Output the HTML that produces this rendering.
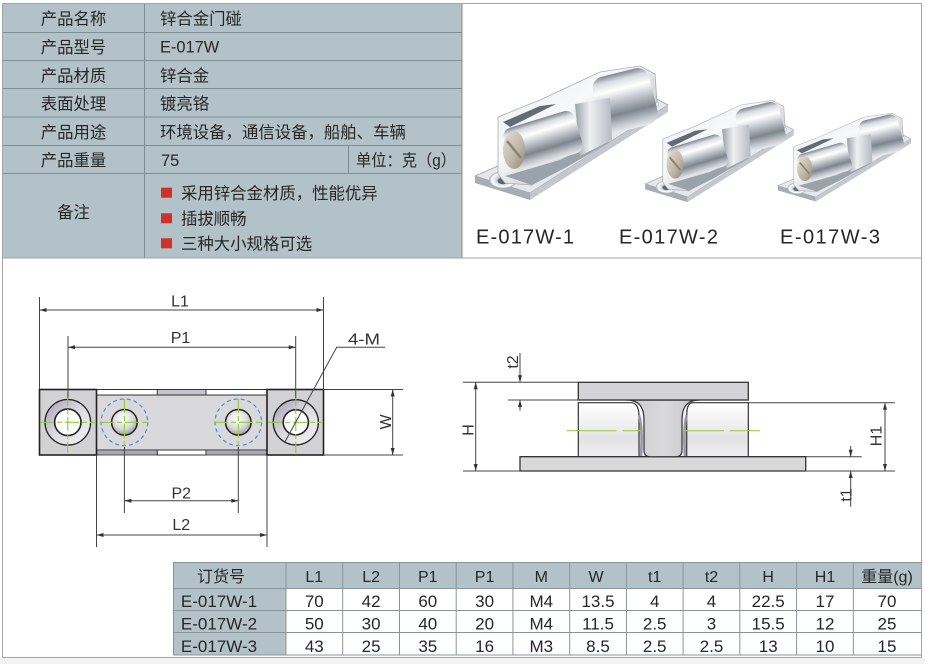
<!DOCTYPE html>
<html><head><meta charset="utf-8">
<style>
html,body{margin:0;padding:0;background:#fff;}
svg{display:block;}
text{font-family:"Liberation Sans","Noto Sans CJK SC",sans-serif;fill:#262626;}
.d{fill:#333;}
</style></head><body>
<svg width="925" height="664" viewBox="0 0 925 664" xmlns="http://www.w3.org/2000/svg">
<defs>
<linearGradient id="cyl" x1="0" y1="0" x2="0" y2="1">
<stop offset="0" stop-color="#7e858f"/><stop offset="0.12" stop-color="#d9dde2"/><stop offset="0.28" stop-color="#ffffff"/><stop offset="0.45" stop-color="#c9cdd3"/><stop offset="0.7" stop-color="#7f858e"/><stop offset="0.88" stop-color="#c2c7cd"/><stop offset="1" stop-color="#e9ebee"/>
</linearGradient>
<linearGradient id="body" x1="0" y1="0" x2="1" y2="1">
<stop offset="0" stop-color="#e9ecef"/><stop offset="0.4" stop-color="#f7f8f9"/><stop offset="0.7" stop-color="#c3c8ce"/><stop offset="1" stop-color="#dde0e4"/>
</linearGradient>
<linearGradient id="mid" x1="0" y1="0" x2="1" y2="0">
<stop offset="0" stop-color="#9aa0a8"/><stop offset="0.4" stop-color="#eef0f2"/><stop offset="1" stop-color="#b6bbc2"/>
</linearGradient>
<linearGradient id="screw" x1="0" y1="0" x2="1" y2="1">
<stop offset="0" stop-color="#e6e0d4"/><stop offset="0.6" stop-color="#bdb5a5"/><stop offset="1" stop-color="#8d8676"/>
</linearGradient>
<radialGradient id="hole" cx="0.5" cy="0.5" r="0.5">
<stop offset="0" stop-color="#6c727a"/><stop offset="0.5" stop-color="#d5d9de"/><stop offset="0.8" stop-color="#ffffff"/><stop offset="1" stop-color="#a3a9b1"/>
</radialGradient>
<linearGradient id="csk" x1="0" y1="0" x2="1" y2="1">
<stop offset="0" stop-color="#a79eb6"/><stop offset="0.5" stop-color="#dcdbe0"/><stop offset="1" stop-color="#f4f4f4"/>
</linearGradient>
<radialGradient id="ball" cx="0.45" cy="0.35" r="0.7">
<stop offset="0" stop-color="#ffffff"/><stop offset="0.6" stop-color="#d8d8da"/><stop offset="1" stop-color="#8e8e94"/>
</radialGradient>
<linearGradient id="lb" x1="0" y1="0" x2="0" y2="1">
<stop offset="0" stop-color="#ffffff"/><stop offset="0.45" stop-color="#eeeeee"/><stop offset="0.65" stop-color="#e2e2e4"/><stop offset="1" stop-color="#efeff0"/>
</linearGradient>
<linearGradient id="stem" x1="0" y1="0" x2="1" y2="0">
<stop offset="0" stop-color="#c8c8cc"/><stop offset="0.5" stop-color="#dadadc"/><stop offset="1" stop-color="#c4c4c8"/>
</linearGradient>
<g id="prod">
 <polygon points="475,176 500,165 655,98 668,105 530,193" fill="#e4e7eb" stroke="#9aa0a8" stroke-width="0.8"/>
 <polygon points="475,176 530,193 530,200 475,183" fill="#a7adb5"/>
 <polygon points="530,193 668,105 668,112 530,200" fill="#c3c8ce"/>
 <ellipse cx="503" cy="180" rx="14" ry="8.5" fill="url(#hole)"/>
 <ellipse cx="503" cy="181" rx="5.5" ry="3.2" fill="#5f656d"/>
 <ellipse cx="652" cy="104" rx="7" ry="4" fill="url(#hole)"/>
 <polygon points="498,117 540,100 600,72 640,66 655,74 657,102 640,114 600,140 560,165 532,185 505,183 498,174" fill="url(#body)" stroke="#a9aeb5" stroke-width="0.8"/>
 <polygon points="503,122 540,106 556,104 520,122 510,127" fill="#656b74"/>
 <polygon points="505,176 560,160 600,140 610,142 565,168 532,185" fill="#9ca2aa"/>
 <g transform="rotate(-14 624 100)"><rect x="596" y="72" width="58" height="58" rx="12" fill="url(#cyl)"/></g>
 <polygon points="575,104 610,98 612,140 580,156" fill="url(#mid)"/>
 <g transform="rotate(-17 545 140)"><rect x="506" y="118" width="74" height="44" rx="9" fill="url(#cyl)"/></g>
 <ellipse cx="514" cy="150" rx="11" ry="19" fill="url(#screw)"/>
 <line x1="507" y1="141" x2="521" y2="158" stroke="#8b8272" stroke-width="2.5"/>
</g>
</defs>

<rect width="925" height="664" fill="#fff"/>
<rect x="0" y="658" width="925" height="6" fill="#f3f3f3"/>

<!-- ===== top table ===== -->
<rect x="2.5" y="3.5" width="459.5" height="254.5" fill="#b3c2c9"/>
<g stroke="#7f8d94" stroke-width="1" fill="none">
<line x1="2.5" y1="32.5" x2="462" y2="32.5"/>
<line x1="2.5" y1="60.5" x2="462" y2="60.5"/>
<line x1="2.5" y1="88.5" x2="462" y2="88.5"/>
<line x1="2.5" y1="117" x2="462" y2="117"/>
<line x1="2.5" y1="145.5" x2="462" y2="145.5"/>
<line x1="2.5" y1="173.5" x2="462" y2="173.5"/>
<line x1="144.5" y1="3.5" x2="144.5" y2="258"/>
<line x1="348.5" y1="145.5" x2="348.5" y2="173.5"/>
<line x1="462" y1="3.5" x2="462" y2="258"/>
</g>
<g font-size="16.4">
<text x="73.5" y="24.5" text-anchor="middle">产品名称</text>
<text x="73.5" y="53" text-anchor="middle">产品型号</text>
<text x="73.5" y="81.5" text-anchor="middle">产品材质</text>
<text x="73.5" y="109.5" text-anchor="middle">表面处理</text>
<text x="73.5" y="138" text-anchor="middle">产品用途</text>
<text x="73.5" y="166" text-anchor="middle">产品重量</text>
<text x="73.5" y="218" text-anchor="middle">备注</text>
<text x="160" y="24.5">锌合金门碰</text>
<text x="160" y="52.5">E-017W</text>
<text x="160" y="81.5">锌合金</text>
<text x="160" y="109.5">镀亮铬</text>
<text x="160" y="138">环境设备，通信设备，船舶、车辆</text>
<text x="161" y="166">75</text>
<text x="356" y="166" textLength="100" lengthAdjust="spacingAndGlyphs">单位：克（g）</text>
<text x="181" y="199">采用锌合金材质，性能优异</text>
<text x="181" y="224.5">插拔顺畅</text>
<text x="181" y="249.5">三种大小规格可选</text>
</g>
<rect x="161" y="187.7" width="11" height="10" fill="#d22f27"/>
<rect x="161" y="213.3" width="11" height="10" fill="#d22f27"/>
<rect x="161" y="238.3" width="11" height="10" fill="#d22f27"/>

<!-- ===== product photos ===== -->
<use href="#prod"/>
<use href="#prod" transform="translate(719,152) scale(0.77,0.76) translate(-571,-134)"/>
<use href="#prod" transform="translate(844,158) scale(0.69,0.66) translate(-571,-134)"/>
<g font-size="20">
<text x="476" y="243.5" textLength="98" lengthAdjust="spacing">E-017W-1</text>
<text x="619" y="243.5" textLength="99" lengthAdjust="spacing">E-017W-2</text>
<text x="780" y="243.5" textLength="100" lengthAdjust="spacing">E-017W-3</text>
</g>

<!-- ===== outer frame ===== -->
<g stroke="#a3a3a3" stroke-width="1" fill="none">
<line x1="2.5" y1="3.5" x2="921.5" y2="3.5"/>
<line x1="2.5" y1="258" x2="921.5" y2="258"/>
<line x1="2.5" y1="3.5" x2="2.5" y2="657.5"/>
<line x1="921.5" y1="3.5" x2="921.5" y2="657.5"/>
<line x1="2.5" y1="657.5" x2="921.5" y2="657.5"/>
</g>

<!-- ===== left drawing ===== -->
<rect x="96.5" y="395" width="170.5" height="55" fill="#d9d9db" stroke="#333" stroke-width="1"/>
<rect x="157.3" y="389.5" width="48.7" height="5.5" fill="#c6c6ca" stroke="#333" stroke-width="1"/>
<rect x="96.5" y="450" width="60.8" height="5" fill="#a9a9b3" stroke="#333" stroke-width="0.8"/>
<rect x="157.3" y="450" width="48.7" height="5" fill="#fff" stroke="#333" stroke-width="1"/>
<rect x="206" y="450" width="61" height="5" fill="#a9a9b3" stroke="#333" stroke-width="0.8"/>
<line x1="96.5" y1="389.5" x2="267" y2="389.5" stroke="#333" stroke-width="1"/>
<rect x="39.5" y="389.5" width="57" height="65.5" fill="#d2d2d4" stroke="#222" stroke-width="1.6"/>
<rect x="267" y="389.5" width="56.5" height="65.5" fill="#d2d2d4" stroke="#222" stroke-width="1.6"/>
<circle cx="67.8" cy="422.3" r="22.8" fill="url(#csk)" stroke="#222" stroke-width="1.3"/>
<circle cx="67.8" cy="422.3" r="13.2" fill="#fff" stroke="#222" stroke-width="1.6"/>
<circle cx="295.8" cy="422.3" r="22.6" fill="url(#csk)" stroke="#222" stroke-width="1.3"/>
<circle cx="295.8" cy="422.3" r="12.6" fill="#fff" stroke="#222" stroke-width="1.6"/>
<circle cx="124.4" cy="422.3" r="12.8" fill="url(#ball)" stroke="#222" stroke-width="1.5"/>
<circle cx="238.3" cy="422.3" r="12.8" fill="url(#ball)" stroke="#222" stroke-width="1.5"/>
<circle cx="124.4" cy="422.3" r="23.3" fill="none" stroke="#4a8fd8" stroke-width="1.2" stroke-dasharray="4,3"/>
<circle cx="238.3" cy="422.3" r="23.3" fill="none" stroke="#4a8fd8" stroke-width="1.2" stroke-dasharray="4,3"/>
<g stroke="#8ccc3c" stroke-width="1.1" stroke-dasharray="14,3,5,3">
<line x1="40" y1="422.3" x2="96" y2="422.3"/>
<line x1="67.8" y1="392" x2="67.8" y2="453"/>
<line x1="100" y1="422.3" x2="149" y2="422.3"/>
<line x1="124.4" y1="399" x2="124.4" y2="447"/>
<line x1="214" y1="422.3" x2="263" y2="422.3"/>
<line x1="238.3" y1="399" x2="238.3" y2="447"/>
<line x1="268" y1="422.3" x2="323" y2="422.3"/>
<line x1="295.8" y1="392" x2="295.8" y2="453"/>
</g>
<g stroke="#444" stroke-width="1" fill="none">
<line x1="39.5" y1="297" x2="39.5" y2="389"/>
<line x1="323.5" y1="297" x2="323.5" y2="389"/>
<line x1="39.5" y1="310" x2="323.5" y2="310"/>
<line x1="68" y1="336" x2="68" y2="398"/>
<line x1="295.7" y1="336" x2="295.7" y2="398"/>
<line x1="68" y1="347.3" x2="295.7" y2="347.3"/>
<line x1="323.5" y1="389.5" x2="403" y2="389.5"/>
<line x1="323.5" y1="455" x2="403" y2="455"/>
<line x1="392.7" y1="389.5" x2="392.7" y2="455"/>
<line x1="124.4" y1="447" x2="124.4" y2="513"/>
<line x1="238.3" y1="447" x2="238.3" y2="513"/>
<line x1="124.4" y1="500.7" x2="238.3" y2="500.7"/>
<line x1="96.5" y1="455" x2="96.5" y2="547"/>
<line x1="267" y1="455" x2="267" y2="547"/>
<line x1="96.5" y1="535" x2="267" y2="535"/>
<polyline points="285,441.7 336.7,347.3 385,347.3"/>
</g>
<g fill="#333">
<polygon points="39.5,310 46.5,308 46.5,312"/><polygon points="323.5,310 316.5,308 316.5,312"/>
<polygon points="68,347.3 75,345.3 75,349.3"/><polygon points="295.7,347.3 288.7,345.3 288.7,349.3"/>
<polygon points="124.4,500.7 131.4,498.7 131.4,502.7"/><polygon points="238.3,500.7 231.3,498.7 231.3,502.7"/>
<polygon points="96.5,535 103.5,533 103.5,537"/><polygon points="267,535 260,533 260,537"/>
<polygon points="392.7,389.5 390.7,396.5 394.7,396.5"/><polygon points="392.7,455 390.7,448 394.7,448"/>
</g>
<g font-size="16">
<text class="d" x="180" y="306.5" text-anchor="middle">L1</text>
<text class="d" x="180.5" y="343" text-anchor="middle">P1</text>
<text class="d" x="181.3" y="498.3" text-anchor="middle">P2</text>
<text class="d" x="181.3" y="530" text-anchor="middle">L2</text>
<text class="d" x="348" y="344.5" textLength="32" lengthAdjust="spacingAndGlyphs">4-M</text>
<text class="d" transform="translate(391,422) rotate(-90)" text-anchor="middle">W</text>
</g>

<!-- ===== right drawing ===== -->
<rect x="578.3" y="402.7" width="170" height="54" fill="url(#lb)"/>
<path d="M578.3,456.7 L578.3,402.7 L632,402.7 M692,402.7 L748.3,402.7 L748.3,456.7" fill="none" stroke="#333" stroke-width="1.2"/>
<path d="M632,402.7 C638,404 639,410 639,418 L639,456.7" fill="none" stroke="#333" stroke-width="1.2"/>
<path d="M692,402.7 C687,404 686.7,410 686.7,418 L686.7,456.7" fill="none" stroke="#333" stroke-width="1.2"/>
<path d="M639,415 C642,425 642,440 641,456" fill="none" stroke="#9a96a8" stroke-width="2.5"/>
<path d="M686.7,415 C684,425 684,440 685,456" fill="none" stroke="#9a96a8" stroke-width="2.5"/>
<path d="M520,456.7 L805.7,456.7 L805.7,471 L520,471 Z" fill="#d9d9db" stroke="#333" stroke-width="1.3"/>
<path d="M626,400 C640,400 644,408 644,420 L644,450 Q644,456.7 650,456.7 L676,456.7 Q682,456.7 682,450 L682,420 C682,408 686,400 700,400 Z" fill="url(#stem)" stroke="#333" stroke-width="1.2"/>
<rect x="578.3" y="382.3" width="170" height="17.7" fill="#d4d4d6" stroke="#333" stroke-width="1.3"/>
<line x1="566.7" y1="430.7" x2="642" y2="430.7" stroke="#9ccc55" stroke-width="1.1" stroke-dasharray="50,6,18,6"/>
<line x1="684" y1="430.7" x2="760" y2="430.7" stroke="#9ccc55" stroke-width="1.1" stroke-dasharray="40,6,30,6"/>
<g stroke="#444" stroke-width="1" fill="none">
<line x1="463" y1="382.3" x2="578.3" y2="382.3"/>
<line x1="463" y1="471" x2="520" y2="471"/>
<line x1="805.7" y1="471" x2="895" y2="471"/>
<line x1="748.3" y1="402.7" x2="895" y2="402.7"/>
<line x1="508" y1="400" x2="578.3" y2="400"/>
<line x1="805.7" y1="456.7" x2="861.7" y2="456.7"/>
<line x1="475.7" y1="382.3" x2="475.7" y2="471"/>
<line x1="885" y1="402.7" x2="885" y2="471"/>
<line x1="520" y1="353" x2="520" y2="382.3"/>
<line x1="520" y1="400" x2="520" y2="410.7"/>
<line x1="850.7" y1="446" x2="850.7" y2="456.7"/>
<line x1="850.7" y1="471" x2="850.7" y2="506.7"/>
</g>
<g fill="#333">
<polygon points="475.7,382.3 473.7,389.3 477.7,389.3"/><polygon points="475.7,471 473.7,464 477.7,464"/>
<polygon points="885,402.7 883,409.7 887,409.7"/><polygon points="885,471 883,464 887,464"/>
<polygon points="520,382.3 518,375.3 522,375.3"/><polygon points="520,400 518,407 522,407"/>
<polygon points="850.7,456.7 848.7,449.7 852.7,449.7"/><polygon points="850.7,471 848.7,478 852.7,478"/>
</g>
<g font-size="16">
<text class="d" transform="translate(473.3,430) rotate(-90)" text-anchor="middle">H</text>
<text class="d" transform="translate(518,362) rotate(-90)" text-anchor="middle">t2</text>
<text class="d" transform="translate(881.5,436) rotate(-90)" text-anchor="middle">H1</text>
<text class="d" transform="translate(851.5,495) rotate(-90)" text-anchor="middle">t1</text>
</g>

<!-- ===== bottom table ===== -->
<rect x="173" y="562.5" width="748" height="26" fill="#b3c2c9"/>
<rect x="173" y="588.5" width="113" height="66.5" fill="#b3c2c9"/>
<g stroke="#8a959b" stroke-width="1" fill="none">
<line x1="173" y1="562.5" x2="921" y2="562.5"/>
<line x1="173" y1="588.5" x2="921" y2="588.5"/>
<line x1="173" y1="610.5" x2="921" y2="610.5"/>
<line x1="173" y1="632.5" x2="921" y2="632.5"/>
<line x1="173" y1="655" x2="921" y2="655"/>
<line x1="173.5" y1="562.5" x2="173.5" y2="655"/>
<line x1="286" y1="562.5" x2="286" y2="655"/>
<line x1="342.7" y1="562.5" x2="342.7" y2="655"/>
<line x1="399.5" y1="562.5" x2="399.5" y2="655"/>
<line x1="456.2" y1="562.5" x2="456.2" y2="655"/>
<line x1="512.9" y1="562.5" x2="512.9" y2="655"/>
<line x1="569.7" y1="562.5" x2="569.7" y2="655"/>
<line x1="626.4" y1="562.5" x2="626.4" y2="655"/>
<line x1="683.1" y1="562.5" x2="683.1" y2="655"/>
<line x1="739.8" y1="562.5" x2="739.8" y2="655"/>
<line x1="796.6" y1="562.5" x2="796.6" y2="655"/>
<line x1="853.3" y1="562.5" x2="853.3" y2="655"/>
</g>
<g font-size="16" text-anchor="middle">
<text x="221" y="582">订货号</text>
<text x="314.3" y="582">L1</text>
<text x="371.1" y="582">L2</text>
<text x="427.8" y="582">P1</text>
<text x="484.6" y="582">P1</text>
<text x="541.3" y="582">M</text>
<text x="596" y="582">W</text>
<text x="654.7" y="582">t1</text>
<text x="711.5" y="582">t2</text>
<text x="768.2" y="582">H</text>
<text x="825" y="582">H1</text>
<text x="887" y="582">重量(g)</text>
</g>
<g font-size="17" text-anchor="middle">
<text x="219" y="607">E-017W-1</text>
<text x="314.3" y="607">70</text><text x="371.1" y="607">42</text><text x="427.8" y="607">60</text><text x="484.6" y="607">30</text><text x="541.3" y="607">M4</text><text x="598" y="607">13.5</text><text x="654.7" y="607">4</text><text x="711.5" y="607">4</text><text x="768.2" y="607">22.5</text><text x="825" y="607">17</text><text x="887" y="607">70</text>
<text x="219" y="629.5">E-017W-2</text>
<text x="314.3" y="629.5">50</text><text x="371.1" y="629.5">30</text><text x="427.8" y="629.5">40</text><text x="484.6" y="629.5">20</text><text x="541.3" y="629.5">M4</text><text x="598" y="629.5">11.5</text><text x="654.7" y="629.5">2.5</text><text x="711.5" y="629.5">3</text><text x="768.2" y="629.5">15.5</text><text x="825" y="629.5">12</text><text x="887" y="629.5">25</text>
<text x="219" y="652">E-017W-3</text>
<text x="314.3" y="652">43</text><text x="371.1" y="652">25</text><text x="427.8" y="652">35</text><text x="484.6" y="652">16</text><text x="541.3" y="652">M3</text><text x="598" y="652">8.5</text><text x="654.7" y="652">2.5</text><text x="711.5" y="652">2.5</text><text x="768.2" y="652">13</text><text x="825" y="652">10</text><text x="887" y="652">15</text>
</g>
</svg>
</body></html>
